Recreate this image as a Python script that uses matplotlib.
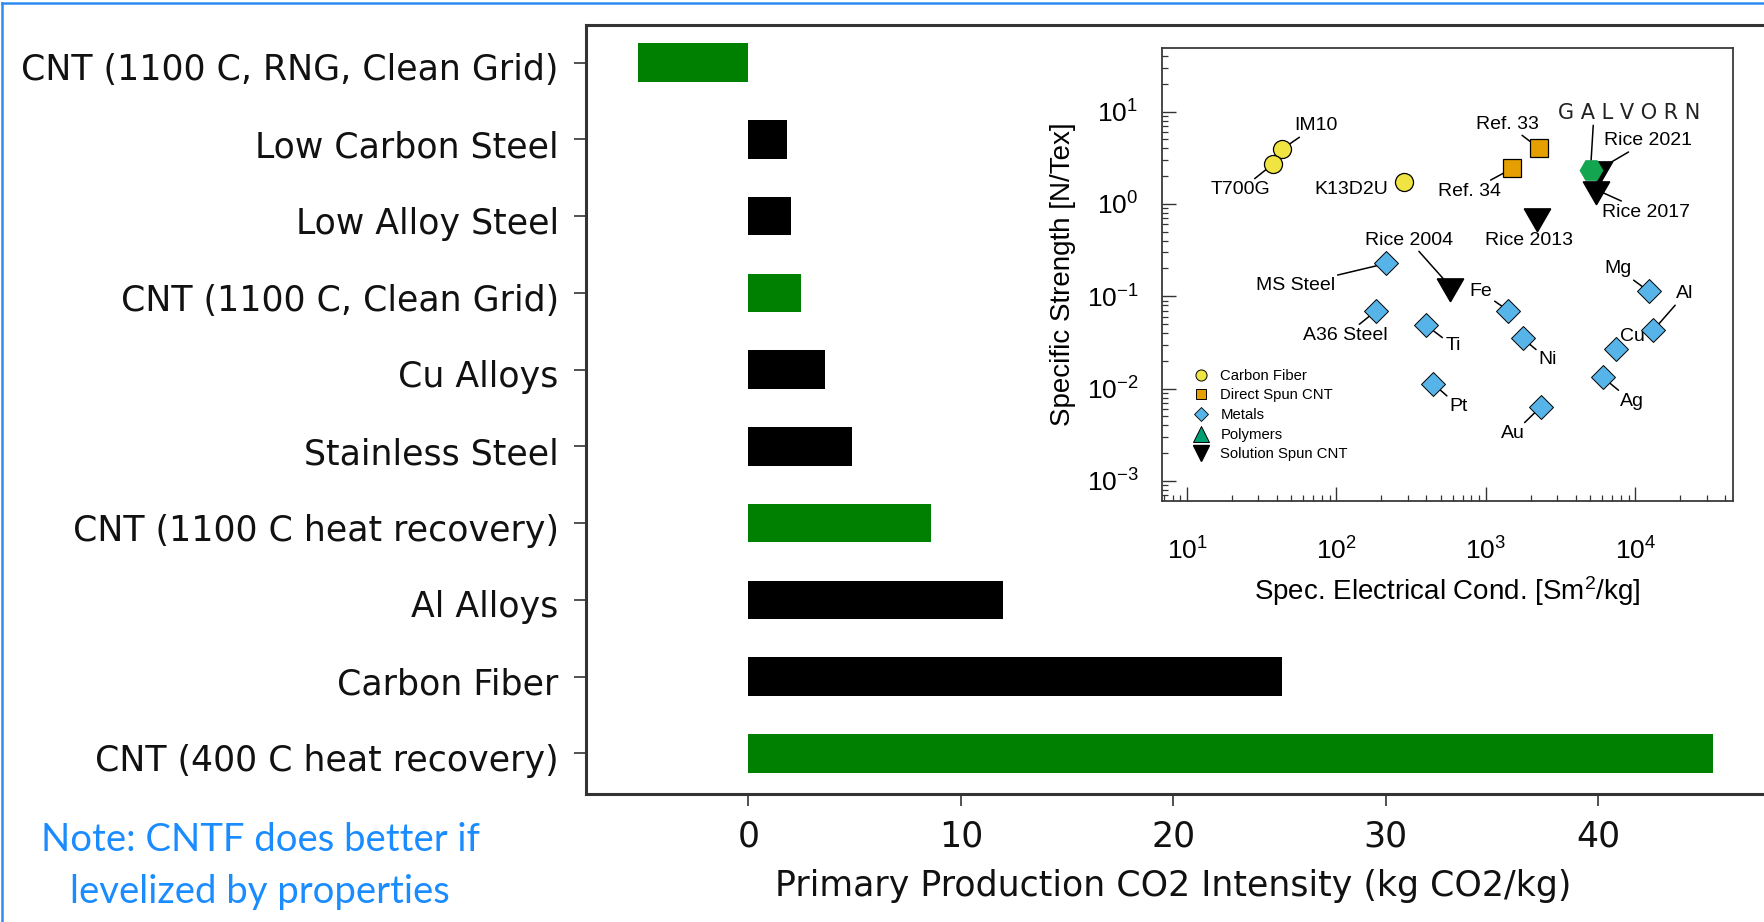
import numpy as np
import matplotlib
matplotlib.use("Agg")
import matplotlib.pyplot as plt
import matplotlib.transforms as mtransforms
from matplotlib.lines import Line2D
from matplotlib.ticker import LogLocator, NullFormatter, FixedLocator

plt.rcParams['mathtext.fontset'] = 'custom'
plt.rcParams['mathtext.rm'] = 'Liberation Sans'
plt.rcParams['mathtext.it'] = 'Liberation Sans:italic'
plt.rcParams['mathtext.bf'] = 'Liberation Sans:bold'

# ---------------- main bar chart data ----------------
materials = [
    "CNT (1100 C, RNG, Clean Grid)",
    "Low Carbon Steel",
    "Low Alloy Steel",
    "CNT (1100 C, Clean Grid)",
    "Cu Alloys",
    "Stainless Steel",
    "CNT (1100 C heat recovery)",
    "Al Alloys",
    "Carbon Fiber",
    "CNT (400 C heat recovery)",
]
co2_intensity = [-5.2, 1.8, 2.0, 2.5, 3.6, 4.9, 8.6, 12.0, 25.1, 45.4]
is_cnt = [True, False, False, True, False, False, True, False, False, True]
x_ticks = [0, 10, 20, 30, 40]

# ---------------- inset Ashby-style data ----------------
cf_names = ["IM10", "T700G", "K13D2U"]
cf_cond = [43.0, 37.5, 285.0]
cf_strength = [3.9, 2.7, 1.72]

ds_names = ["Ref. 33", "Ref. 34"]
ds_cond = [2250.0, 1500.0]
ds_strength = [4.05, 2.43]

metal_names = ["MS Steel", "A36 Steel", "Ti", "Pt", "Fe", "Ni", "Au",
               "Mg", "Al", "Cu", "Ag"]
metal_cond = [216.0, 185.0, 395.0, 443.0, 1410.0, 1760.0, 2320.0,
              12300.0, 13200.0, 7460.0, 6040.0]
metal_strength = [0.227, 0.070, 0.049, 0.0113, 0.070, 0.035, 0.0063,
                  0.113, 0.043, 0.027, 0.0133]

ss_names = ["Rice 2004", "Rice 2013", "Rice 2017", "Rice 2021"]
ss_cond = [571.0, 2210.0, 5410.0, 5750.0]
ss_strength = [0.13, 0.75, 1.44, 2.39]

galvorn_cond = [5010.0]
galvorn_strength = [2.34]

# label anchor positions (data coords) and whether a leader line is drawn
label_pos = {
    "IM10": (52, 7.0, "left", True),
    "T700G": (22.8, 1.42, "center", True),
    "K13D2U": (126, 1.45, "center", False),
    "Ref. 33": (1390, 7.35, "center", True),
    "Ref. 34": (780, 1.37, "center", True),
    "Rice 2021": (12100, 4.85, "center", True),
    "Rice 2017": (11860, 0.813, "center", True),
    "Rice 2013": (1945, 0.40, "center", False),
    "Rice 2004": (305, 0.407, "center", True),
    "MS Steel": (53, 0.132, "center", True),
    "A36 Steel": (114.5, 0.0375, "center", True),
    "Ti": (601, 0.0292, "center", True),
    "Pt": (659, 0.0064, "center", True),
    "Fe": (920, 0.113, "center", True),
    "Ni": (2605, 0.0206, "center", True),
    "Au": (1518, 0.00323, "center", True),
    "Mg": (7690, 0.198, "center", True),
    "Al": (21500, 0.106, "center", True),
    "Cu": (9510, 0.0366, "center", False),
    "Ag": (9510, 0.00723, "center", True),
}

C_YELLOW = "#F0E442"
C_ORANGE = "#E69F00"
C_BLUE = "#56B4E9"
C_POLY = "#009E73"
C_GALV = "#14A550"
SPINE = "#333333"

W, H = 1765, 922
fig = plt.figure(figsize=(W / 100, H / 100), dpi=100)
fig.patch.set_facecolor("white")

# ---------------- main axes ----------------
ax = fig.add_axes([586 / W, 1 - 794 / H, (W - 586) / W, (794 - 25) / H])
ypos = np.arange(len(materials))
bar_colors = ["#008000" if c else "#000000" for c in is_cnt]
ax.barh(ypos, co2_intensity, height=0.5, color=bar_colors)
ax.set_xlim(-7.64, 47.85)
ax.set_ylim(9.53, -0.49)
ax.set_yticks(ypos)
ax.set_yticklabels(materials, fontsize=25, family="DejaVu Sans", color="#111111")
ax.set_xticks(x_ticks)
ax.set_xticklabels([str(t) for t in x_ticks], fontsize=25, family="DejaVu Sans",
                   color="#111111")
ax.tick_params(axis="both", direction="out", length=8.6, width=1.2, color=SPINE)
ax.tick_params(axis="y", pad=11)
ax.tick_params(axis="x", pad=10)
shift_down = mtransforms.ScaledTranslation(0, -3 / 72, fig.dpi_scale_trans)
for lab in ax.get_yticklabels():
    lab.set_transform(lab.get_transform() + shift_down)
for side in ("left", "top", "bottom"):
    ax.spines[side].set_linewidth(2.2)
    ax.spines[side].set_color(SPINE)
ax.spines["right"].set_visible(False)
ax.set_xlabel("Primary Production CO2 Intensity (kg CO2/kg)", fontsize=25,
              family="DejaVu Sans", color="#111111")
ax.xaxis.set_label_coords(0.498, -0.098)

# ---------------- inset axes ----------------
ix0, ix1, iy0, iy1 = 1162, 1733, 48, 501
ins = fig.add_axes([ix0 / W, 1 - iy1 / H, (ix1 - ix0) / W, (iy1 - iy0) / H])
ins.set_facecolor("white")
ins.set_xscale("log")
ins.set_yscale("log")
ins.set_xlim(6.8, 45000)
ins.set_ylim(6.05e-4, 49)
ins.xaxis.set_major_locator(FixedLocator([1e1, 1e2, 1e3, 1e4]))
ins.yaxis.set_major_locator(FixedLocator([1e-3, 1e-2, 1e-1, 1e0, 1e1]))
ins.xaxis.set_minor_locator(LogLocator(base=10, subs=np.arange(2, 10), numticks=20))
ins.yaxis.set_minor_locator(LogLocator(base=10, subs=np.arange(2, 10), numticks=20))
ins.xaxis.set_minor_formatter(NullFormatter())
ins.yaxis.set_minor_formatter(NullFormatter())
ins.tick_params(which="major", direction="in", length=10, width=1.0, color="#333333",
                labelsize=19)
ins.tick_params(which="minor", direction="in", length=4, width=0.9, color="#333333")
ins.tick_params(axis="x", which="major", pad=26)
ins.tick_params(axis="y", which="major", pad=17)
for lab in ins.get_xticklabels() + ins.get_yticklabels():
    lab.set_family("Liberation Sans")
for s in ins.spines.values():
    s.set_linewidth(1.3)
    s.set_color("#3a3a3a")

ins.set_xlabel(r"Spec. Electrical Cond. [Sm$^2$/kg]", fontsize=20,
               family="Liberation Sans")
ins.set_ylabel("Specific Strength [N/Tex]", fontsize=20, family="Liberation Sans")
ins.xaxis.set_label_coords(0.5, -0.162)
ins.yaxis.set_label_coords(-0.15, 0.5)

tri_down = (3, 0, 180)
ins.plot(cf_cond, cf_strength, "o", ms=13, mfc=C_YELLOW, mec="black", mew=0.9,
         zorder=5)
ins.plot(ds_cond, ds_strength, "s", ms=12.5, mfc=C_ORANGE, mec="black", mew=0.9,
         zorder=5)
ins.plot(metal_cond, metal_strength, "D", ms=12, mfc=C_BLUE, mec="black", mew=0.7,
         zorder=5)
ins.plot(ss_cond, ss_strength, marker=tri_down, ls="none", ms=22, mfc="black",
         mec="black", zorder=5)
ins.plot(galvorn_cond, galvorn_strength, "H", ms=16, mfc=C_GALV, mec=C_GALV,
         zorder=6)

all_pts = {}
for names, xs, ys in ((cf_names, cf_cond, cf_strength),
                      (ds_names, ds_cond, ds_strength),
                      (metal_names, metal_cond, metal_strength),
                      (ss_names, ss_cond, ss_strength)):
    for n, x, y in zip(names, xs, ys):
        all_pts[n] = (x, y)

line_props = dict(arrowstyle="-", color="black", lw=1.1, shrinkA=0, shrinkB=0)
for name, (tx, ty, ha, has_line) in label_pos.items():
    px, py = all_pts[name]
    ins.annotate(name, xy=(px, py), xytext=(tx, ty), textcoords="data",
                 ha=ha, va="center", fontsize=14, family="Liberation Sans",
                 arrowprops=line_props if has_line else None, zorder=4)

ins.annotate("G A L V O R N", xy=(galvorn_cond[0], galvorn_strength[0]),
             xytext=(9060, 9.8), textcoords="data", ha="center", va="center",
             fontsize=15, family="DejaVu Sans", color="#222222",
             arrowprops=dict(arrowstyle="-", color="black", lw=1.1,
                             shrinkA=0, shrinkB=0, relpos=(0.25, 0.0)),
             zorder=4)

handles = [
    Line2D([], [], ls="none", marker="o", ms=8, mfc=C_YELLOW, mec="black", mew=0.7),
    Line2D([], [], ls="none", marker="s", ms=7, mfc=C_ORANGE, mec="black", mew=0.7),
    Line2D([], [], ls="none", marker="D", ms=7, mfc=C_BLUE, mec="black", mew=0.6),
    Line2D([], [], ls="none", marker="^", ms=11, mfc=C_POLY, mec="black", mew=0.7),
    Line2D([], [], ls="none", marker="v", ms=11, mfc="black", mec="black"),
]
leg_labels = ["Carbon Fiber", "Direct Spun CNT", "Metals", "Polymers",
              "Solution Spun CNT"]
ins.legend(handles, leg_labels, loc="upper left", bbox_to_anchor=(0.045, 0.305),
           frameon=False, prop={"family": "Liberation Sans", "size": 10.7},
           handlelength=1.0, handletextpad=0.8, labelspacing=0.38,
           borderaxespad=0.0)

# ---------------- note and frame ----------------
fig.text(260 / W, 1 - 866 / H, "Note: CNTF does better if\nlevelized by properties",
         ha="center", va="center", fontsize=27.5, family="Lato", color="#1A8CFF",
         linespacing=1.55, multialignment="center")

fig.add_artist(Line2D([2 / W, 2 / W], [0, 1 - 3 / H], color="#2E8BF0", lw=1.8,
                      transform=fig.transFigure))
fig.add_artist(Line2D([2 / W, 1], [1 - 3 / H, 1 - 3 / H], color="#2E8BF0", lw=1.8,
                      transform=fig.transFigure))

fig.savefig("out.png", dpi=100, facecolor="white")
